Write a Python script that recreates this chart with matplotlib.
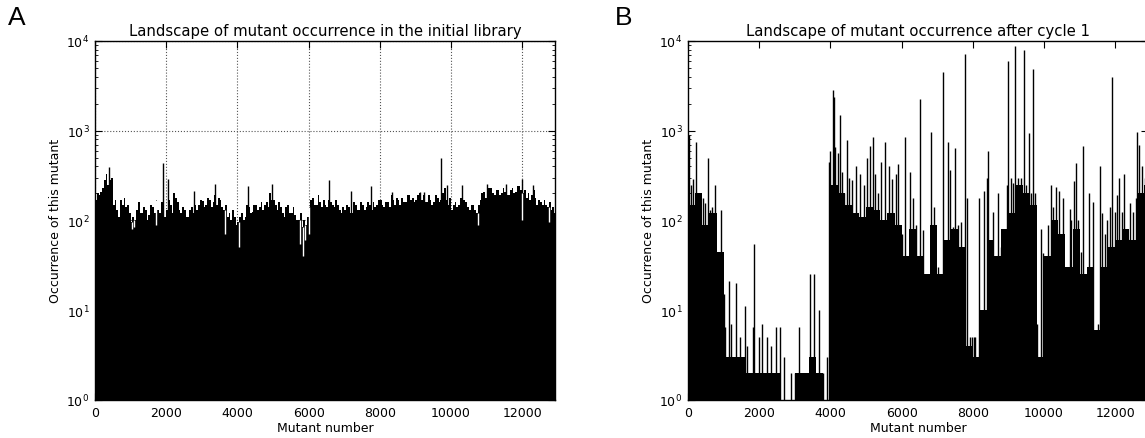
import numpy as np
import matplotlib
matplotlib.use('Agg')
import matplotlib.pyplot as plt

# 初始文库：每100个突变体一组的上包络，以及每组中点的读数
bin_a = 100
env_a = [170, 190, 230, 330, 280, 150, 130, 170, 180, 150,
         95, 100, 160, 120, 130, 115, 140, 170, 120, 150,
         130, 150, 200, 160, 120, 130, 110, 140, 150, 150,
         165, 150, 170, 160, 150, 170, 130, 110, 100, 110,
         95, 120, 110, 140, 125, 150, 140, 130, 160, 200,
         170, 130, 140, 110, 150, 120, 115, 100, 85, 90,
         140, 180, 150, 160, 170, 140, 160, 140, 150, 120,
         130, 140, 120, 150, 130, 150, 140, 150, 160, 150,
         170, 140, 160, 190, 150, 170, 180, 160, 190, 180,
         170, 200, 190, 160, 170, 160, 180, 170, 230, 150,
         130, 160, 150, 220, 160, 130, 150, 120, 170, 210,
         200, 230, 190, 220, 200, 210, 190, 230, 210, 240,
         200, 180, 170, 220, 150, 160, 170, 140, 130, 120]
mid_a = [200, 210, 280, 250, 300, 170, 110, 150, 140, 120,
         110, 130, 120, 140, 100, 150, 120, 130, 160, 110,
         170, 120, 180, 130, 140, 110, 130, 120, 130, 170,
         140, 180, 140, 190, 180, 140, 150, 120, 130, 90,
         110, 100, 150, 120, 150, 130, 160, 150, 140, 170,
         150, 160, 120, 140, 120, 140, 100, 120, 100, 110,
         170, 150, 190, 140, 150, 170, 150, 170, 130, 140,
         150, 120, 160, 130, 160, 130, 160, 130, 140, 170,
         150, 160, 140, 170, 180, 150, 160, 190, 170, 160,
         190, 170, 160, 190, 150, 190, 160, 200, 170, 180,
         150, 140, 180, 170, 140, 150, 130, 150, 200, 180,
         230, 200, 220, 190, 230, 190, 220, 200, 240, 220,
         220, 200, 190, 180, 170, 150, 150, 160, 140, 110]
# 初始文库中的单独高峰
spike_a_pos = [380, 1900, 2050, 2790, 3370, 4300, 4960, 6580, 7180, 7760,
               8340, 9130, 9250, 9730, 9890, 10320, 11010, 11550, 12000, 12290]
spike_a_val = [390, 440, 290, 215, 255, 240, 255, 280, 215, 240,
               205, 205, 210, 490, 250, 245, 255, 255, 290, 250]
# 初始文库中的低谷
dip_a_pos = [1050, 1100, 1700, 3650, 4050, 5750, 5850, 5900, 6000, 10750, 12000, 12750]
dip_a_val = [80, 85, 90, 70, 50, 55, 40, 60, 70, 90, 100, 95]

# 第1轮之后：每200个突变体一组的底部填充
bin_b = 200
base_b = [150, 200, 90, 120, 45, 3, 3, 3, 2, 2,
          2, 2, 2, 1, 1, 2, 2, 3, 2, 1,
          250, 200, 150, 120, 110, 140, 130, 100, 120, 90,
          40, 80, 40, 25, 90, 25, 60, 80, 50, 4,
          3, 10, 60, 40, 80, 120, 250, 200, 150, 3,
          40, 100, 70, 30, 80, 25, 30, 6, 30, 50,
          60, 80, 60, 200, 250]
spike_b_pos = [10, 30, 80, 130, 230, 330, 430, 470, 550, 620, 670, 760, 840, 920, 950,
               1000, 1030, 1140, 1220, 1360, 1460, 1610, 1650, 1820, 1850, 2000, 2090,
               2230, 2320, 2460, 2580, 2690, 2900, 3000, 3120, 3250, 3430, 3540, 3680,
               3800, 3900, 3960, 3990, 4060, 4090, 4140, 4210, 4280, 4330, 4380, 4460,
               4520, 4600, 4710, 4830, 4950, 5040, 5120, 5200, 5260, 5350, 5430, 5540,
               5650, 5740, 5830, 5900, 6010, 6100, 6240, 6310, 6400, 6520, 6610, 6690,
               6760, 6830, 6920, 7010, 7080, 7150, 7230, 7300, 7370, 7430, 7510, 7580,
               7660, 7720, 7780, 7830, 7920, 7970, 8020, 8070, 8170, 8230, 8320, 8400,
               8440, 8490, 8580, 8660, 8720, 8780, 8850, 8950, 8990, 9060, 9130, 9190,
               9270, 9360, 9430, 9500, 9570, 9640, 9690, 9760, 9810, 9910, 9980, 10050,
               10120, 10190, 10260, 10340, 10420, 10540, 10630, 10720, 10760, 10830,
               10890, 10960, 11030, 11090, 11160, 11250, 11310, 11380, 11440, 11510,
               11580, 11640, 11720, 11780, 11840, 11920, 11990, 12060, 12120, 12190,
               12260, 12350, 12420, 12510, 12570, 12620, 12660, 12750, 12850]
spike_b_val = [8, 890, 250, 290, 750, 70, 180, 155, 490, 130, 140, 250, 25, 130, 36,
               15, 6.5, 21, 7, 20, 5, 11, 4, 6.5, 55, 5, 7,
               5, 4, 6.5, 6.5, 3, 2, 2, 6.5, 2, 25, 25, 10,
               2, 3, 450, 600, 2850, 2400, 660, 560, 1480, 350, 200, 790,
               300, 280, 400, 330, 250, 490, 680, 850, 330, 200, 450, 750,
               400, 290, 330, 420, 70, 850, 350, 180, 90, 2250, 78, 6,
               4.5, 960, 140, 30, 16, 4500, 45, 750, 360, 85, 640, 88,
               95, 38, 7200, 180, 5, 5, 5, 5, 180, 9, 215, 300,
               600, 5, 125, 25, 200, 50, 43, 250, 5900, 300, 260, 8800,
               300, 300, 7900, 250, 950, 200, 4900, 200, 7, 80, 43, 30,
               90, 250, 140, 235, 215, 180, 6.5, 135, 100, 275,
               440, 100, 45, 680, 16, 200, 14, 160, 3.5, 7,
               400, 120, 70, 100, 140, 4000, 125, 190, 300, 125,
               330, 62, 155, 125, 180, 960, 700, 400, 300]

titles = ['Landscape of mutant occurrence in the initial library',
          'Landscape of mutant occurrence after cycle 1']
n_mut = 12920

fig = plt.figure(figsize=(11.45, 4.39), dpi=100)
ax_a = fig.add_axes([0.083, 0.0866, 0.4017, 0.818])
ax_b = fig.add_axes([0.6009, 0.0866, 0.4017, 0.818])

# A: 两组读数交错成50个突变体一格的阶梯填充
fine_a = np.ravel(np.column_stack([env_a, mid_a]))
edges_a = np.arange(len(fine_a) + 1) * (bin_a / 2)
ax_a.stairs(fine_a, edges_a, baseline=1, fill=True, color='black', linewidth=0, zorder=2)
ax_a.vlines(spike_a_pos, 1, spike_a_val, color='black', linewidth=1.0, zorder=2)
dip_top = [env_a[int(p // bin_a)] for p in dip_a_pos]
ax_a.vlines(dip_a_pos, dip_a_val, dip_top, color='white', linewidth=1.0, zorder=3)
ax_a.grid(True, which='major', linestyle=':', color='#555555', linewidth=0.8)
ax_a.set_axisbelow(True)

# B
edges_b = np.arange(len(base_b) + 1) * bin_b
ax_b.stairs(base_b, edges_b, baseline=1, fill=True, color='black', linewidth=0, zorder=2)
ax_b.vlines(spike_b_pos, 1, spike_b_val, color='black', linewidth=1.0, zorder=2)

for ax, title in zip([ax_a, ax_b], titles):
    ax.set_yscale('log')
    ax.set_ylim(1, 1e4)
    ax.set_xlim(0, n_mut)
    ax.set_xticks([0, 2000, 4000, 6000, 8000, 10000, 12000])
    ax.tick_params(which='both', direction='in', top=True, right=True, labelsize=9)
    ax.tick_params(which='major', length=5, pad=4)
    ax.tick_params(which='minor', length=2.5)
    ax.set_title(title, fontsize=10.7, pad=4)
    ax.set_xlabel('Mutant number', fontsize=9, labelpad=2)
    ax.set_ylabel('Occurrence of this mutant', fontsize=9, labelpad=3)
    for s in ax.spines.values():
        s.set_linewidth(1.0)

fig.text(0.0148, 0.958, 'A', fontsize=19, family='Liberation Sans', ha='center', va='center')
fig.text(0.5445, 0.958, 'B', fontsize=19, family='Liberation Sans', ha='center', va='center')

fig.savefig('out.png', dpi=100, facecolor='white')
